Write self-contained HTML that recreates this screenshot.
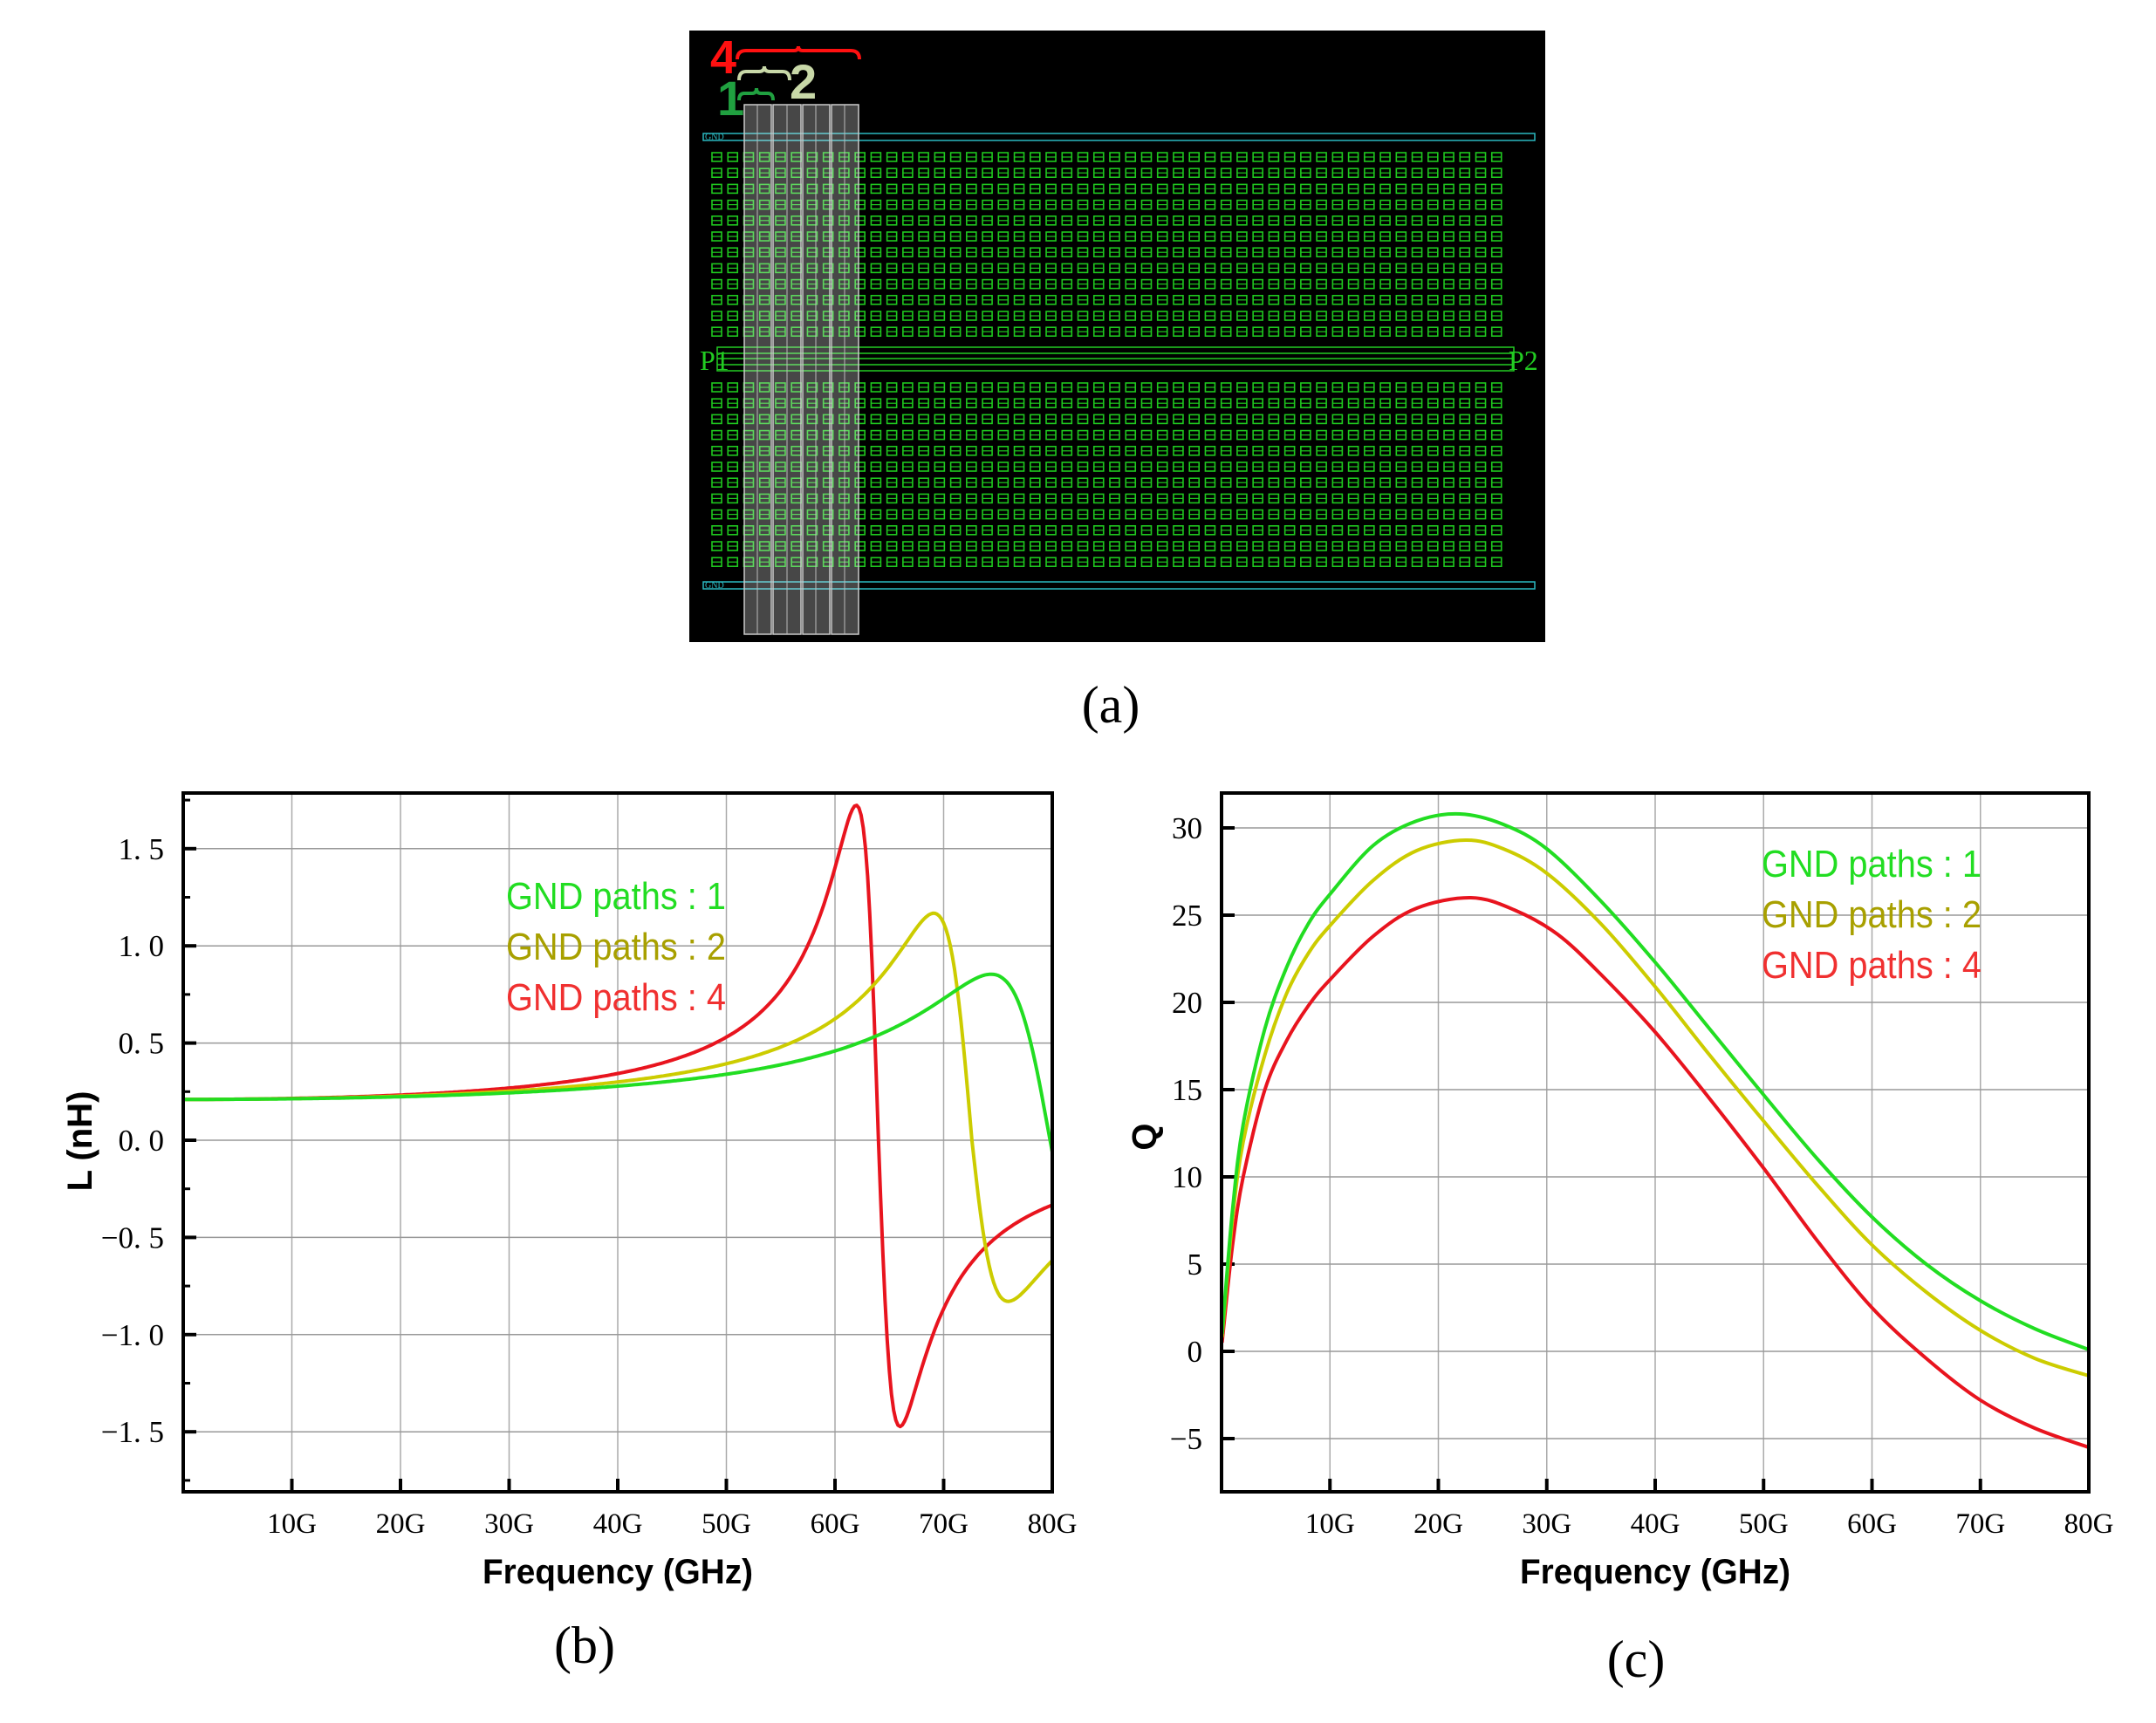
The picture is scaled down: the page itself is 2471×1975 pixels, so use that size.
<!DOCTYPE html>
<html><head><meta charset="utf-8"><style>
html,body{margin:0;padding:0;background:#fff;}
svg{display:block;}
</style></head><body>
<svg id="s" width="2471" height="1975" xmlns="http://www.w3.org/2000/svg">
<rect width="2471" height="1975" fill="#fff"/>
<rect x="790" y="35" width="981" height="701" fill="#000"/>
<g id="vias"></g>
<rect x="806" y="153" width="953" height="8" fill="none" stroke="#2ab8c0" stroke-width="1.5"/>
<rect x="806" y="667" width="953" height="8" fill="none" stroke="#2ab8c0" stroke-width="1.5"/>
<text x="808" y="160" font-family="Liberation Serif" font-size="10" fill="#2ab8c0">GND</text>
<text x="808" y="674" font-family="Liberation Serif" font-size="10" fill="#2ab8c0">GND</text>
<g stroke="#22cc22" stroke-width="1.5" fill="none">
<rect x="822" y="398" width="913" height="27"/>
<line x1="822" y1="405" x2="1735" y2="405"/><line x1="822" y1="411" x2="1735" y2="411"/><line x1="822" y1="418" x2="1735" y2="418"/>
</g>
<text x="802" y="424" font-family="Liberation Serif" font-size="32" fill="#22cc22">P1</text>
<text x="1729" y="424" font-family="Liberation Serif" font-size="32" fill="#22cc22">P2</text>
<g fill="rgba(255,255,255,0.28)" stroke="#ccc" stroke-width="1.5">
<rect x="853" y="120" width="31" height="607"/><rect x="886" y="120" width="32" height="607"/>
<rect x="920" y="120" width="31" height="607"/><rect x="953" y="120" width="31" height="607"/>
</g>
<g stroke="#bbb" stroke-width="1"><line x1="868" y1="120" x2="868" y2="727"/><line x1="902" y1="120" x2="902" y2="727"/><line x1="935" y1="120" x2="935" y2="727"/><line x1="968" y1="120" x2="968" y2="727"/></g>
<text x="814" y="84" font-family="Liberation Sans" font-weight="bold" font-size="54" fill="#ff1010">4</text>
<text x="905" y="113" font-family="Liberation Sans" font-weight="bold" font-size="56" fill="#c8d8a8">2</text>
<text x="822" y="132" font-family="Liberation Sans" font-weight="bold" font-size="56" fill="#20a040">1</text>
<path d="M845 68 Q845 58 855 58 L910 58 Q915 58 915 53 Q915 58 920 58 L975 58 Q985 58 985 68" fill="none" stroke="#ff1010" stroke-width="4"/>
<path d="M847 92 Q847 82 855 82 L870 82 Q876 82 876 76 Q876 82 882 82 L897 82 Q905 82 905 92" fill="none" stroke="#c8d8a8" stroke-width="4"/>
<path d="M847 115 Q847 107 853 107 L862 107 Q867 107 867 101 Q867 107 872 107 L880 107 Q886 107 886 115" fill="none" stroke="#20a040" stroke-width="4"/>
<text x="1273" y="828" text-anchor="middle" font-family="Liberation Serif" font-size="60">(a)</text>
<g id="pb"></g><g id="pc"></g>
<text x="670" y="1906" text-anchor="middle" font-family="Liberation Serif" font-size="60">(b)</text>
<text x="1875" y="1922" text-anchor="middle" font-family="Liberation Serif" font-size="60">(c)</text>
</svg>
<script>
var NS="http://www.w3.org/2000/svg";
function el(p,t,a,txt){var e=document.createElementNS(NS,t);for(var k in a)e.setAttribute(k,a[k]);if(txt!=null)e.textContent=txt;p.appendChild(e);return e;}
var v=document.getElementById('vias');
for(var blk=0;blk<2;blk++){var y0=blk?444:180;
for(var r=0;r<12;r++)for(var c=0;c<50;c++){var x=821+c*18.24-5,y=y0+r*18.2-5;
el(v,'rect',{x:x,y:y,width:11,height:10,fill:'none',stroke:'#1fc81f','stroke-width':1.6});
el(v,'line',{x1:x,y1:y+5,x2:x+11,y2:y+5,stroke:'#1fc81f','stroke-width':1.2});}}
function catmull(pts){var d='M'+pts[0][0].toFixed(1)+' '+pts[0][1].toFixed(1);
for(var i=0;i<pts.length-1;i++){var p0=pts[Math.max(i-1,0)],p1=pts[i],p2=pts[i+1],p3=pts[Math.min(i+2,pts.length-1)];
d+=' C'+(p1[0]+(p2[0]-p0[0])/6).toFixed(1)+' '+(p1[1]+(p2[1]-p0[1])/6).toFixed(1)+' '+(p2[0]-(p3[0]-p1[0])/6).toFixed(1)+' '+(p2[1]-(p3[1]-p1[1])/6).toFixed(1)+' '+p2[0].toFixed(1)+' '+p2[1].toFixed(1);}return d;}
function plot(g,o){
var L=o.L,R=o.R,T=909,B=1710;
function X(f){return L+f/80*(R-L);} function Y(v){return o.y0-v*o.ys;}
for(var i=1;i<8;i++)el(g,'line',{x1:X(i*10),y1:T,x2:X(i*10),y2:B,stroke:'#aaa','stroke-width':1.5});
o.maj.forEach(function(m){el(g,'line',{x1:L,y1:Y(m),x2:R,y2:Y(m),stroke:'#999','stroke-width':1.5});
el(g,'line',{x1:L,y1:Y(m),x2:L+15,y2:Y(m),stroke:'#000','stroke-width':4});
el(g,'text',{x:L-22,y:Y(m)+12,'text-anchor':'end','font-family':'Liberation Serif','font-size':35},o.fmt(m));});
(o.min||[]).forEach(function(m){el(g,'line',{x1:L,y1:Y(m),x2:L+8,y2:Y(m),stroke:'#000','stroke-width':3});});
for(var i=1;i<=8;i++){el(g,'line',{x1:X(i*10),y1:B,x2:X(i*10),y2:B-15,stroke:'#000','stroke-width':4});
el(g,'text',{x:X(i*10),y:1757,'text-anchor':'middle','font-family':'Liberation Serif','font-size':33},(i*10)+'G');}
o.series.forEach(function(s){el(g,'path',{d:s.d(X,Y),fill:'none',stroke:s.c,'stroke-width':4,'stroke-linejoin':'round'});});
el(g,'rect',{x:L,y:T,width:R-L,height:B-T,fill:'none',stroke:'#000','stroke-width':4});
el(g,'text',{x:(L+R)/2,y:1815,'text-anchor':'middle','font-family':'Liberation Sans','font-size':40,'font-weight':'bold',textLength:310,lengthAdjust:'spacingAndGlyphs'},'Frequency (GHz)');
el(g,'text',{x:0,y:0,'text-anchor':'middle','font-family':'Liberation Sans','font-size':40,'font-weight':'bold',transform:'translate('+o.ytx+','+(o.yty)+') rotate(-90)'},o.yl);
var cols=['#22dd22','#a8a000','#f03030'],labs=['GND paths : 1','GND paths : 2','GND paths : 4'];
for(var i=0;i<3;i++)el(g,'text',{x:o.lx,y:o.ly+i*58,'font-family':'Liberation Sans','font-size':44,fill:cols[i],textLength:252,lengthAdjust:'spacingAndGlyphs'},labs[i]);
}
function Lf(L0,f0,Q,k){return function(X,Y){var p=[];for(var f=0;f<=80.001;f+=0.2){var x=f/f0,a=1-x*x,v=L0*a/(a*a+x*x/(Q*Q));if(v<0)v*=k;p.push([X(f),Y(v)]);}
return 'M'+p.map(function(q){return q[0].toFixed(1)+' '+q[1].toFixed(1)}).join(' L');};}
plot(document.getElementById('pb'),{L:210,R:1206,y0:1307,ys:222.8,maj:[1.5,1,0.5,0,-0.5,-1,-1.5],min:[1.75,1.25,0.75,0.25,-0.25,-0.75,-1.25,-1.75],
fmt:function(m){return (m<0?'\u2212':'')+Math.abs(m).toFixed(1).replace('.','. ');},
series:[{c:'#e8141e',d:Lf(0.21,64,15.9,0.91)},{c:'#cccc00',d:Lf(0.21,72.6,10.6,0.78)},{c:'#22dd22',d:Lf(0.21,79.8,7.6,1)}],
ytx:105,yty:1308,yl:'L (nH)',lx:580,ly:1042});
function Qd(pts){return function(X,Y){return catmull(pts.map(function(p){return [X(p[0]),Y(p[1])];}));};}
plot(document.getElementById('pc'),{L:1400,R:2394,y0:1549,ys:20,maj:[30,25,20,15,10,5,0,-5],
fmt:function(m){return m<0?'\u2212'+(-m):''+m;},
series:[
{c:'#e8141e',d:Qd([[0.05,0.5],[1,6],[2,10],[4,15],[6,17.8],[8,19.8],[10,21.3],[14,23.8],[18,25.4],[23,26],[27,25.3],[31,23.9],[35,21.6],[40,18.3],[45,14.5],[50,10.5],[55,6.3],[60,2.5],[65,-0.4],[70,-2.8],[75,-4.4],[80,-5.5]])},
{c:'#cccc00',d:Qd([[0.05,0.8],[1,7.5],[2,12],[4,17],[6,20.5],[8,22.8],[10,24.4],[14,27],[18,28.7],[22.5,29.3],[26,28.8],[30,27.4],[35,24.5],[40,20.9],[45,17],[50,13.2],[55,9.5],[60,6.1],[65,3.4],[70,1.2],[75,-0.4],[80,-1.4]])},
{c:'#22dd22',d:Qd([[0.05,1],[1,8],[2,13],[4,18.5],[6,22],[8,24.5],[10,26.2],[14,29],[18,30.4],[22,30.8],[26,30.2],[30,28.8],[35,25.8],[40,22.3],[45,18.5],[50,14.7],[55,11],[60,7.7],[65,5],[70,2.9],[75,1.3],[80,0.1]])}],
ytx:1325,yty:1303,yl:'Q',lx:2019,ly:1005});
</script>
</body></html>
